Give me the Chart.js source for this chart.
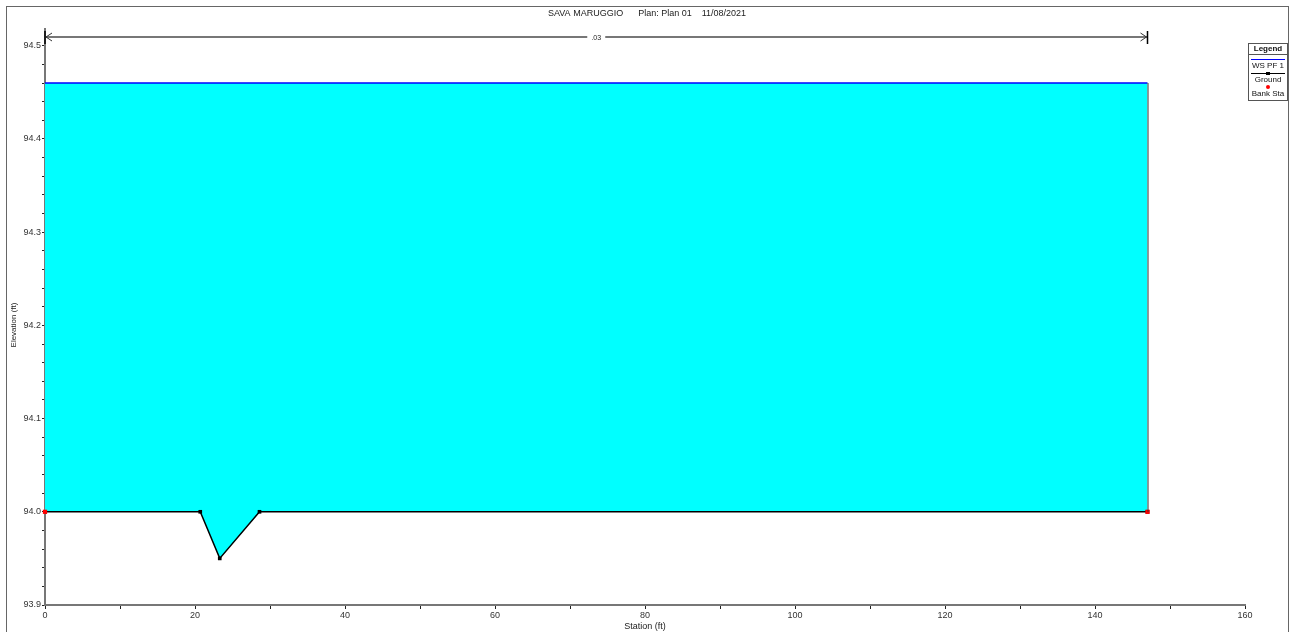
<!DOCTYPE html>
<html>
<head>
<meta charset="utf-8">
<script src="https://cdn.jsdelivr.net/npm/chart.js@4/dist/chart.umd.min.js"></script>
<style>
html,body{margin:0;padding:0;background:#fff}
</style>
</head>
<body>
<canvas id="xsec" width="1295" height="632"></canvas>
<script>
var groundSta = [0, 20.7, 23.3, 28.6, 147];
var groundElev = [94.0, 94.0, 93.95, 94.0, 94.0];
var bankSta = [0, 147];
var bankElev = [94.0, 94.0];
var wsSta = [0, 147];
var wsElev = [94.46, 94.46];
var nValue = ".03";
var titleText = "SAVA MARUGGIO      Plan: Plan 01    11/08/2021";

function pts(xs, ys) {
  return xs.map(function (x, i) { return {x: x, y: ys[i]}; });
}

// extra drawing: frame, title, n-value arrow, legend box
var extras = {
  id: "extras",
  afterDraw: function (chart) {
    var ctx = chart.ctx;
    var xs = chart.scales.x, ys = chart.scales.y;
    ctx.save();
    // outer frame
    ctx.strokeStyle = "#666";
    ctx.lineWidth = 1;
    ctx.strokeRect(6.5, 6.5, 1282, 630);

    ctx.fillStyle = "#222";
    ctx.font = "9px 'Liberation Sans', Arial";
    ctx.textAlign = "center";
    ctx.textBaseline = "middle";
    ctx.fillText(titleText, 647, 14);
    ctx.fillText("Station (ft)", 645, 627);
    ctx.save();
    ctx.translate(14, 325);
    ctx.rotate(-Math.PI / 2);
    ctx.font = "8px 'Liberation Sans', Arial";
    ctx.fillText("Elevation (ft)", 0, 0);
    ctx.restore();

    // right edge of water
    var xr = xs.getPixelForValue(wsSta[wsSta.length - 1]);
    ctx.strokeStyle = "#333";
    ctx.lineWidth = 1;
    ctx.beginPath();
    ctx.moveTo(xr + 0.5, ys.getPixelForValue(wsElev[1]));
    ctx.lineTo(xr + 0.5, ys.getPixelForValue(groundElev[groundElev.length - 1]));
    ctx.stroke();

    // Manning's n arrow
    var x0 = xs.getPixelForValue(groundSta[0]);
    var x1 = xs.getPixelForValue(groundSta[groundSta.length - 1]);
    var ya = 37;
    var xm = (x0 + x1) / 2;
    ctx.strokeStyle = "#777";
    ctx.lineWidth = 2;
    ctx.beginPath();
    ctx.moveTo(x0, ya); ctx.lineTo(xm - 9, ya);
    ctx.moveTo(xm + 9, ya); ctx.lineTo(x1, ya);
    ctx.stroke();
    ctx.lineWidth = 1;
    ctx.strokeStyle = "#333";
    ctx.beginPath();
    ctx.moveTo(x0 + 7, ya - 4); ctx.lineTo(x0 + 1, ya); ctx.lineTo(x0 + 7, ya + 4);
    ctx.moveTo(x1 - 7, ya - 4); ctx.lineTo(x1 - 1, ya); ctx.lineTo(x1 - 7, ya + 4);
    ctx.stroke();
    ctx.strokeStyle = "#000";
    ctx.lineWidth = 1.5;
    ctx.beginPath();
    ctx.moveTo(x0, ya - 6); ctx.lineTo(x0, ya + 7);
    ctx.moveTo(x1, ya - 6); ctx.lineTo(x1, ya + 7);
    ctx.stroke();
    ctx.fillStyle = "#222";
    ctx.font = "7px 'Liberation Sans', Arial";
    ctx.fillText(nValue, xm, ya + 1);

    // legend
    var lx = 1248, ly = 43, lw = 39, lh = 57;
    ctx.fillStyle = "#fff";
    ctx.fillRect(lx, ly, lw, lh);
    ctx.strokeStyle = "#555";
    ctx.lineWidth = 1;
    ctx.strokeRect(lx + 0.5, ly + 0.5, lw, lh);
    ctx.beginPath();
    ctx.moveTo(lx, ly + 11.5); ctx.lineTo(lx + lw, ly + 11.5);
    ctx.stroke();
    var cx = lx + lw / 2 + 0.5;
    ctx.fillStyle = "#111";
    ctx.font = "bold 8px 'Liberation Sans', Arial";
    ctx.fillText("Legend", cx, ly + 6);
    ctx.font = "8px 'Liberation Sans', Arial";
    ctx.strokeStyle = "#0000ff";
    ctx.beginPath();
    ctx.moveTo(lx + 3, ly + 16.5); ctx.lineTo(lx + lw - 2, ly + 16.5);
    ctx.stroke();
    ctx.fillText("WS PF 1", cx, ly + 23);
    ctx.strokeStyle = "#000";
    ctx.beginPath();
    ctx.moveTo(lx + 3, ly + 30.5); ctx.lineTo(lx + lw - 2, ly + 30.5);
    ctx.stroke();
    ctx.fillStyle = "#000";
    ctx.fillRect(cx - 2, ly + 29, 4, 3);
    ctx.fillStyle = "#111";
    ctx.fillText("Ground", cx, ly + 37);
    ctx.fillStyle = "#ff0000";
    ctx.beginPath();
    ctx.arc(cx, ly + 44, 2, 0, Math.PI * 2);
    ctx.fill();
    ctx.fillStyle = "#111";
    ctx.fillText("Bank Sta", cx, ly + 51);
    ctx.restore();
  }
};

new Chart("xsec", {
  type: "scatter",
  data: {
    datasets: [{
      label: "Bank Sta",
      data: pts(bankSta, bankElev),
      showLine: false,
      clip: false,
      pointStyle: "rect",
      pointRadius: 3,
      backgroundColor: "#ff0000",
      borderColor: "#ff0000",
      borderWidth: 0
    }, {
      label: "WS PF 1",
      data: pts(wsSta, wsElev),
      showLine: true,
      borderColor: "#0000ff",
      borderWidth: 1.5,
      pointRadius: 0,
      fill: false
    }, {
      label: "Ground",
      data: pts(groundSta, groundElev),
      showLine: true,
      borderColor: "#000",
      borderWidth: 1.5,
      pointStyle: "rect",
      pointRadius: 2.6,
      pointBackgroundColor: "#000",
      pointBorderWidth: 0,
      backgroundColor: "#00ffff",
      fill: {value: wsElev[0]}
    }]
  },
  options: {
    responsive: false,
    animation: false,
    layout: {padding: {left: 10, right: 50, top: 29, bottom: 0}},
    plugins: {legend: {display: false}, tooltip: {enabled: false}, title: {display: false}},
    font: {family: "'Liberation Sans', Arial", size: 9},
    scales: {
      x: {
        type: "linear",
        min: 0, max: 160,
        afterFit: function (s) { s.height = 27; },
        border: {color: "#777", width: 2},
        grid: {drawOnChartArea: false, drawTicks: true, tickLength: 4, color: "#222"},
        ticks: {
          stepSize: 10, autoSkip: false, maxRotation: 0, padding: 1, maxTicksLimit: 100,
          color: "#333", font: {family: "'Liberation Sans', Arial", size: 9},
          callback: function (v) { return v % 20 === 0 ? String(v) : ""; }
        }
      },
      y: {
        type: "linear",
        min: 93.9, max: 94.518,
        afterFit: function (s) { s.width = 35; },
        border: {color: "#777", width: 2},
        grid: {drawOnChartArea: false, drawTicks: true, tickLength: 3, color: "#222"},
        ticks: {
          stepSize: 0.02, includeBounds: false, autoSkip: false, padding: 1, maxTicksLimit: 100,
          color: "#333", font: {family: "'Liberation Sans', Arial", size: 9},
          callback: function (v) {
            var r = Math.round(v * 10) / 10;
            return Math.abs(v - r) < 1e-6 ? r.toFixed(1) : "";
          }
        }
      }
    }
  },
  plugins: [extras]
});
</script>
</body>
</html>
